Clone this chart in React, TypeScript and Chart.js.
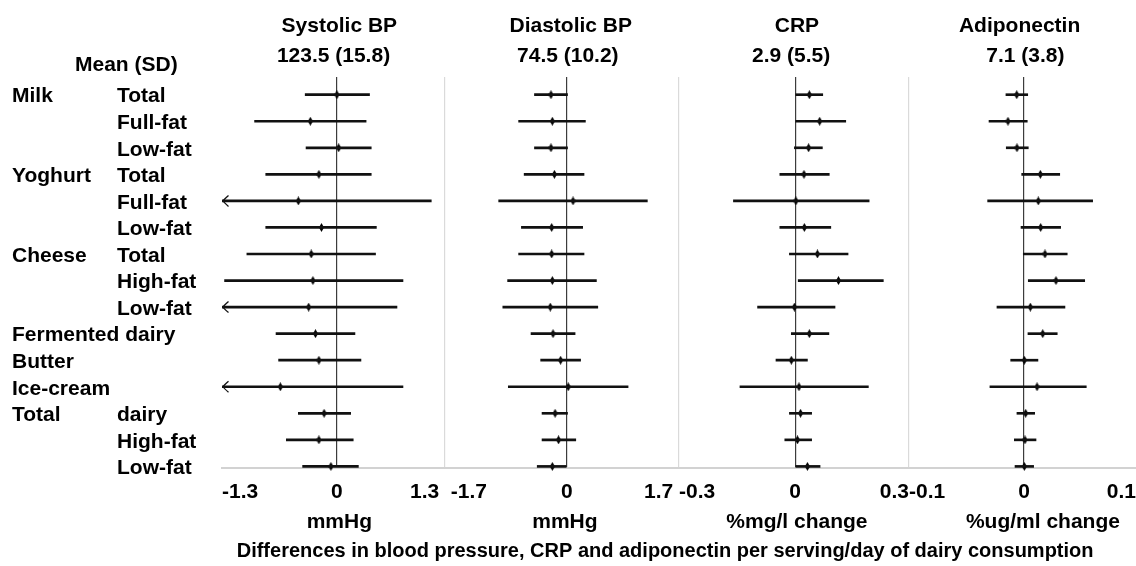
import React, { useEffect, useRef } from 'react';
import { Chart, registerables } from 'chart.js';

Chart.register(...registerables);

// ---------- data ----------
const groupLabels = ['Milk', '', '', 'Yoghurt', '', '', 'Cheese', '', '', 'Fermented dairy', 'Butter', 'Ice-cream', 'Total', '', ''];
const subLabels = ['Total', 'Full-fat', 'Low-fat', 'Total', 'Full-fat', 'Low-fat', 'Total', 'High-fat', 'Low-fat', '', '', '', 'dairy', 'High-fat', 'Low-fat'];

const panelNames = ['Systolic BP', 'Diastolic BP', 'CRP', 'Adiponectin'];
const panelMeans = ['123.5 (15.8)', '74.5 (10.2)', '2.9 (5.5)', '7.1 (3.8)'];
const panelUnits = ['mmHg', 'mmHg', '%mg/l change', '%ug/ml change'];
const panelTickLabels = [
  ['-1.3', '0', '1.3'],
  ['-1.7', '0', '1.7'],
  ['-0.3', '0', '0.3'],
  ['-0.1', '0', '0.1'],
];
const meanLabel = 'Mean (SD)';
const mainTitle = 'Differences in blood pressure, CRP and adiponectin per serving/day of dairy consumption';

const sysPt = [0.00, -0.31, 0.02, -0.21, -0.45, -0.18, -0.30, -0.28, -0.33, -0.25, -0.21, -0.66, -0.15, -0.21, -0.07];
const sysLo = [-0.37, -0.96, -0.36, -0.83, -2.00, -0.83, -1.05, -1.31, -1.40, -0.71, -0.68, -2.10, -0.45, -0.59, -0.40];
const sysHi = [0.38, 0.34, 0.40, 0.40, 1.10, 0.46, 0.45, 0.77, 0.70, 0.21, 0.28, 0.77, 0.16, 0.19, 0.25];

const diaPt = [-0.23, -0.21, -0.23, -0.18, 0.09, -0.22, -0.22, -0.21, -0.24, -0.20, -0.09, 0.02, -0.17, -0.12, -0.21];
const diaLo = [-0.47, -0.70, -0.47, -0.62, -0.99, -0.66, -0.70, -0.86, -0.93, -0.52, -0.38, -0.85, -0.36, -0.36, -0.43];
const diaHi = [0.01, 0.27, 0.01, 0.25, 1.17, 0.23, 0.25, 0.43, 0.45, 0.12, 0.20, 0.89, 0.01, 0.13, 0.00];

const crpPt = [0.037, 0.064, 0.035, 0.023, 0.002, 0.024, 0.058, 0.113, -0.002, 0.037, -0.010, 0.010, 0.014, 0.006, 0.032];
const crpLo = [0.000, 0.000, -0.002, -0.040, -0.161, -0.040, -0.015, 0.008, -0.098, -0.010, -0.050, -0.144, -0.015, -0.027, 0.000];
const crpHi = [0.072, 0.132, 0.071, 0.089, 0.193, 0.093, 0.138, 0.230, 0.104, 0.088, 0.032, 0.191, 0.043, 0.043, 0.065];

const adiPt = [-0.0064, -0.0141, -0.0062, 0.0144, 0.0126, 0.0147, 0.0185, 0.0282, 0.0056, 0.0165, 0.0003, 0.0115, 0.0015, 0.0009, 0.0003];
const adiLo = [-0.0159, -0.0308, -0.0156, -0.0020, -0.0320, -0.0026, -0.0006, 0.0038, -0.0238, 0.0035, -0.0117, -0.0300, -0.0062, -0.0085, -0.0079];
const adiHi = [0.0033, 0.0029, 0.0038, 0.0315, 0.0605, 0.0323, 0.0381, 0.0535, 0.0361, 0.0293, 0.0123, 0.0549, 0.0094, 0.0106, 0.0085];

// ---------- layout / style ----------
const FONT = "'Liberation Sans', Arial, Helvetica, sans-serif";
const panelRanges = [[-1.34, 1.26], [-1.77, 1.63], [-0.303, 0.297], [-0.1013, 0.0987]];
const panelWeights = [223, 234, 230, 227];
const nameShift = [6.5, 10, 4, -1.5];
const meanShift = [1.2, 5.5, -4.3, 3];
const unitShift = [4.5, 3.5, 2, 19.5];
const tickLeadSpaces = [0, 1, 0, 0];
const tickTrailSpaces = [1, 1, 0, 0];
const titleShift = -14;
const Y_MIN = -0.667;
const Y_MAX = 14.06;

function pad(text: string, shift: number, size: number) {
  const n = Math.round((Math.abs(shift) * 2) / (0.278 * size));
  const s = ' '.repeat(n);
  return shift >= 0 ? s + text : text + s;
}

function makeDiamond() {
  const c = document.createElement('canvas');
  c.width = 5;
  c.height = 9;
  const g = c.getContext('2d')!;
  g.fillStyle = '#000';
  g.beginPath();
  g.moveTo(2.5, 0);
  g.lineTo(5, 4.5);
  g.lineTo(2.5, 9);
  g.lineTo(0, 4.5);
  g.closePath();
  g.fill();
  return c;
}

const boldFont = (size: number, lineHeight = 1.2) => ({ family: FONT, size, weight: 'bold' as const, lineHeight });

export default function App() {
  const ref = useRef<HTMLCanvasElement>(null);

  useEffect(() => {
    const canvas = ref.current!;
    const diamond = makeDiamond();
    const panels = [
      { pt: sysPt, lo: sysLo, hi: sysHi },
      { pt: diaPt, lo: diaLo, hi: diaHi },
      { pt: crpPt, lo: crpLo, hi: crpHi },
      { pt: adiPt, lo: adiLo, hi: adiHi },
    ];

    const datasets: any[] = [];
    panels.forEach((p, k) => {
      const id = 'x' + (k + 1);
      const [mn, mx] = panelRanges[k];
      datasets.push({
        type: 'bar',
        indexAxis: 'y',
        xAxisID: id,
        yAxisID: 'y',
        grouped: false,
        data: p.lo.map((lo, i) => ({ y: i, x: [Math.max(lo, mn), Math.min(p.hi[i], mx)] })),
        backgroundColor: '#111',
        borderWidth: 0,
        barThickness: 2,
      });
      datasets.push({
        type: 'scatter',
        xAxisID: id,
        yAxisID: 'y',
        clip: false,
        data: p.pt.map((v, i) => ({ x: v, y: i })),
        pointStyle: diamond,
        pointRadius: 4,
        showLine: false,
      });
    });

    const scales: any = {};
    scales.y = {
      type: 'linear',
      axis: 'y',
      position: 'left',
      reverse: true,
      offset: false,
      min: Y_MIN,
      max: Y_MAX,
      grid: { display: false, offset: false },
      border: { display: false },
      afterBuildTicks: (s: any) => {
        s.ticks = subLabels.map((_, i) => ({ value: i }));
      },
      afterFit: (s: any) => {
        s.width = 105;
        s.paddingTop = 0;
        s.paddingBottom = 0;
      },
      ticks: {
        autoSkip: false,
        crossAlign: 'far',
        labelOffset: 2,
        padding: 0,
        color: '#000',
        font: boldFont(21),
        callback: (v: any) => subLabels[Math.round(Number(v))] ?? '',
      },
    };

    panelRanges.forEach(([mn, mx], k) => {
      const tl = panelTickLabels[k];
      const shownTicks = [
        ' '.repeat(tickLeadSpaces[k]) + tl[0],
        tl[1],
        tl[2] + ' '.repeat(tickTrailSpaces[k]),
      ];
      scales['x' + (k + 1)] = {
        type: 'linear',
        axis: 'x',
        position: 'bottom',
        stack: 'bottomStack',
        stackWeight: panelWeights[k],
        offset: false,
        min: mn,
        max: mx,
        afterBuildTicks: (s: any) => {
          s.ticks = [{ value: mn }, { value: 0 }, { value: mx }];
        },
        afterFit: (s: any) => {
          s.paddingLeft = 0;
          s.paddingRight = 0;
        },
        grid: {
          offset: false,
          drawTicks: true,
          tickLength: 11.4,
          tickColor: 'rgba(0,0,0,0)',
          lineWidth: 1.2,
          color: (c: any) =>
            c.tick && c.tick.value === 0
              ? '#3c3c3c'
              : c.index === 0 && k > 0
              ? '#dadada'
              : 'rgba(0,0,0,0)',
        },
        border: { display: true, color: '#d2d2d2', width: 2 },
        ticks: {
          autoSkip: false,
          maxRotation: 0,
          minRotation: 0,
          align: 'inner',
          padding: 0,
          color: '#000',
          font: boldFont(21),
          callback: (_v: any, i: number) => shownTicks[i],
        },
        title: {
          display: true,
          text: pad(panelUnits[k], unitShift[k], 21),
          color: '#000',
          font: boldFont(21),
          padding: { top: 5.3, bottom: 0 },
        },
      };
      scales['h' + (k + 1)] = {
        type: 'linear',
        axis: 'x',
        position: 'top',
        stack: 'topStack',
        stackWeight: panelWeights[k],
        weight: 4 - k,
        offset: false,
        min: mn,
        max: mx,
        grid: { display: false, drawTicks: false, offset: false },
        border: { display: false },
        ticks: { display: false },
        afterFit: (s: any) => {
          s.paddingLeft = 0;
          s.paddingRight = 0;
        },
        title: {
          display: true,
          text: [pad(panelNames[k], nameShift[k], 21), pad(panelMeans[k], meanShift[k], 21)],
          color: '#000',
          font: boldFont(21, 1.452),
          padding: { top: 10.5, bottom: 5.5 },
        },
      };
    });

    const decor = {
      id: 'decor',
      afterDatasetsDraw(chart: any) {
        const ctx = chart.ctx;
        const yS = chart.scales.y;
        panels.forEach((p, k) => {
          const xs = chart.scales['x' + (k + 1)];
          p.lo.forEach((lo, i) => {
            if (lo < xs.min) {
              const x = xs.left + 1;
              const y = yS.getPixelForValue(i);
              ctx.save();
              ctx.strokeStyle = '#111';
              ctx.lineWidth = 1.3;
              ctx.beginPath();
              ctx.moveTo(x + 5.5, y - 5.5);
              ctx.quadraticCurveTo(x + 1.2, y - 1.8, x, y);
              ctx.quadraticCurveTo(x + 1.2, y + 1.8, x + 5.5, y + 5.5);
              ctx.stroke();
              ctx.restore();
            }
          });
        });
      },
      afterDraw(chart: any) {
        const ctx = chart.ctx;
        const yS = chart.scales.y;
        ctx.save();
        ctx.fillStyle = '#000';
        ctx.font = `bold 21px ${FONT}`;
        ctx.textAlign = 'left';
        ctx.textBaseline = 'middle';
        ctx.fillText(meanLabel, 75, chart.chartArea.top - 12);
        groupLabels.forEach((g, i) => {
          if (g) ctx.fillText(g, 12, yS.getPixelForValue(i) + 2);
        });
        ctx.restore();
      },
    };

    const chart = new Chart(canvas, {
      type: 'bar',
      data: { datasets },
      options: {
        responsive: false,
        animation: false,
        devicePixelRatio: 1,
        events: [],
        layout: { autoPadding: false, padding: { left: 117, right: 0, top: 0, bottom: 0 } },
        scales,
        plugins: {
          legend: { display: false },
          tooltip: { enabled: false },
          title: {
            display: true,
            position: 'bottom',
            fullSize: false,
            text: pad(mainTitle, titleShift, 20),
            color: '#000',
            font: boldFont(20),
            padding: { top: 3.9, bottom: 3 },
          },
        },
      } as any,
      plugins: [decor],
    });
    return () => chart.destroy();
  }, []);

  return (
    <div style={{ position: 'fixed', left: 0, top: 0, width: 1136, height: 566, background: '#fff' }}>
      <canvas ref={ref} width={1136} height={566} style={{ display: 'block' }} />
    </div>
  );
}
